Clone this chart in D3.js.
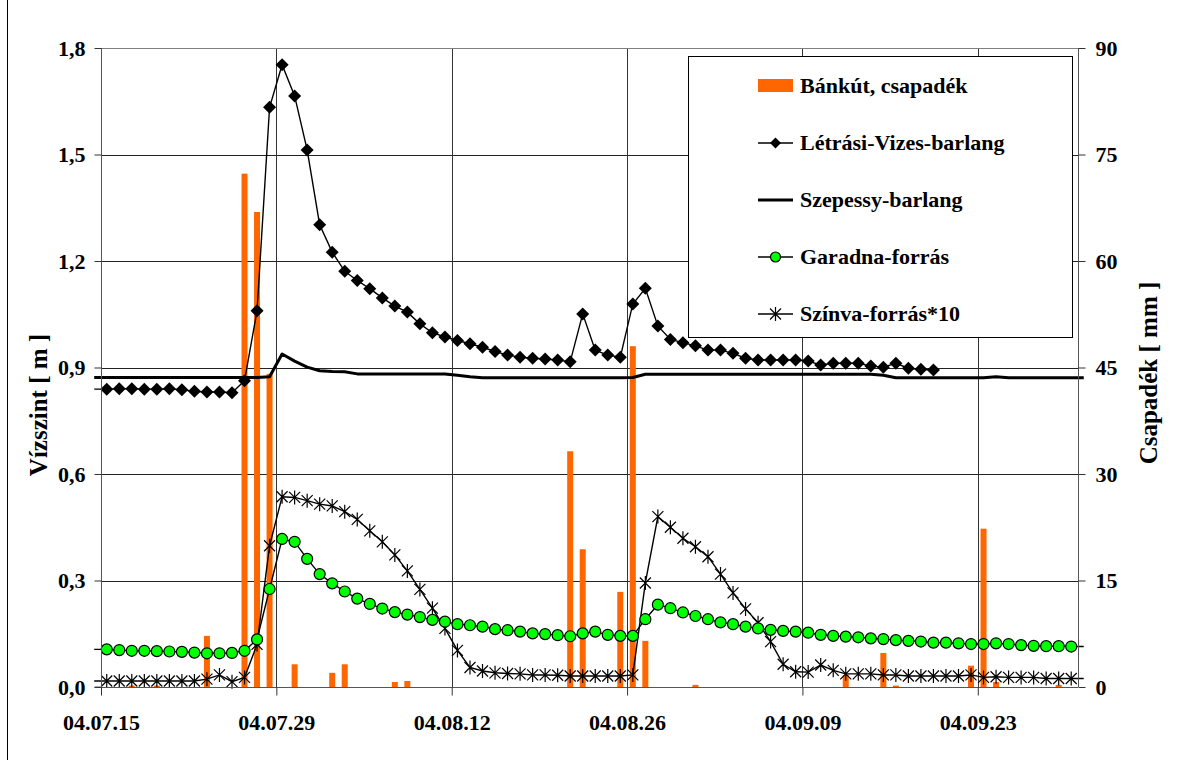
<!DOCTYPE html>
<html>
<head>
<meta charset="utf-8">
<script src="https://cdn.jsdelivr.net/npm/d3@7"></script>
<style>
  html, body { margin: 0; padding: 0; background: #fff; }
  svg { display: block; font-family: "Liberation Serif", "Times New Roman", serif; font-weight: bold; }
</style>
</head>
<body>
<div id="chart"></div>
<script>
// daily values, 04.07.14 .. 04.10.01 (first and last day fall just outside the axis)
const startDay = new Date(Date.UTC(2004, 6, 14));
const endDay = new Date(Date.UTC(2004, 9, 2));
const days = d3.utcDay.range(startDay, endDay);

const tickLabels = ['04.07.15', '04.07.29', '04.08.12', '04.08.26', '04.09.09', '04.09.23'];
const leftTicks = [0, 0.3, 0.6, 0.9, 1.2, 1.5, 1.8];
const rightTicks = [0, 15, 30, 45, 60, 75, 90];

// Bánkút, csapadék [mm]
const precip = [
  0, 0, 0, 0.2, 0, 0.2, 0, 0, 0, 7.2, 0, 0, 72.3, 66.9, 44.1, 0, 3.2, 0, 0, 2.0,
  3.2, 0, 0, 0, 0.7, 0.85, 0, 0, 0, 0, 0, 0, 0, 0, 0, 0, 0, 0, 33.2, 19.4,
  0, 0, 13.4, 48.0, 6.5, 0, 0, 0, 0.3, 0, 0, 0, 0, 0, 0, 0, 0, 0, 0, 0,
  1.7, 0, 0, 4.8, 0.2, 0, 0, 0, 0, 0, 3.0, 22.3, 0.7, 0, 0, 0, 0, 0.3, 0, 0
];

// Létrási-Vizes-barlang [m]
const letrasi = [
  0.839, 0.839, 0.840, 0.840, 0.839, 0.839, 0.840, 0.837, 0.833, 0.831, 0.831, 0.829, 0.863, 1.060, 1.633, 1.753,
  1.665, 1.513, 1.302, 1.225, 1.171, 1.145, 1.122, 1.096, 1.073, 1.056, 1.023, 0.998, 0.986, 0.976,
  0.967, 0.957, 0.945, 0.935, 0.929, 0.926, 0.924, 0.921, 0.916, 1.051, 0.949, 0.935, 0.929, 1.079,
  1.123, 1.017, 0.979, 0.970, 0.961, 0.949, 0.949, 0.940, 0.926, 0.921, 0.921, 0.921, 0.921, 0.918,
  0.907, 0.912, 0.912, 0.912, 0.904, 0.901, 0.912, 0.898, 0.895, 0.893,
  null, null, null, null, null, null, null, null, null, null, null, null
];

// Szepessy-barlang [m]
const szepessy = [
  0.872, 0.872, 0.872, 0.872, 0.872, 0.872, 0.872, 0.872, 0.872, 0.872, 0.872, 0.872, 0.872, 0.872,
  0.874, 0.938, 0.918, 0.901, 0.891, 0.889, 0.888, 0.882, 0.882, 0.882, 0.882, 0.882, 0.882, 0.882,
  0.882, 0.878, 0.874, 0.871, 0.871, 0.871, 0.871, 0.871, 0.871, 0.871, 0.871, 0.871, 0.871, 0.871,
  0.871, 0.872, 0.881, 0.881, 0.881, 0.881, 0.881, 0.881, 0.881, 0.881, 0.881, 0.881, 0.881, 0.881,
  0.881, 0.881, 0.881, 0.881, 0.881, 0.881, 0.881, 0.878, 0.871, 0.871, 0.871, 0.871, 0.871, 0.871,
  0.871, 0.871, 0.874, 0.871, 0.871, 0.871, 0.871, 0.871, 0.871, 0.871
];

// Garadna-forrás [m]
const garadna = [
  0.106, 0.106, 0.104, 0.102, 0.102, 0.101, 0.100, 0.099, 0.097, 0.095, 0.095, 0.096, 0.102, 0.134,
  0.276, 0.417, 0.409, 0.361, 0.318, 0.292, 0.269, 0.249, 0.234, 0.221, 0.211, 0.204, 0.197, 0.189,
  0.184, 0.177, 0.174, 0.170, 0.163, 0.160, 0.156, 0.151, 0.149, 0.146, 0.143, 0.151, 0.156, 0.147,
  0.144, 0.144, 0.191, 0.232, 0.222, 0.210, 0.200, 0.191, 0.182, 0.177, 0.170, 0.165, 0.161, 0.158,
  0.156, 0.153, 0.147, 0.144, 0.142, 0.140, 0.137, 0.135, 0.132, 0.130, 0.128, 0.125, 0.125, 0.123,
  0.121, 0.121, 0.123, 0.121, 0.118, 0.116, 0.115, 0.115, 0.114, 0.114
];

// Színva-forrás*10 [m]
const szinva = [
  0.017, 0.017, 0.017, 0.017, 0.017, 0.017, 0.017, 0.017, 0.017, 0.022, 0.034, 0.015, 0.027, 0.120,
  0.398, 0.536, 0.534, 0.525, 0.515, 0.510, 0.494, 0.472, 0.440, 0.409, 0.372, 0.327, 0.275, 0.222,
  0.165, 0.103, 0.055, 0.045, 0.040, 0.038, 0.037, 0.034, 0.034, 0.033, 0.031, 0.031, 0.031, 0.031,
  0.031, 0.034, 0.293, 0.480, 0.450, 0.419, 0.395, 0.367, 0.318, 0.265, 0.220, 0.181, 0.128, 0.064,
  0.043, 0.042, 0.062, 0.047, 0.037, 0.037, 0.037, 0.034, 0.034, 0.031, 0.031, 0.031, 0.031, 0.031,
  0.034, 0.027, 0.029, 0.027, 0.027, 0.027, 0.024, 0.024, 0.024, 0.024
];

const W = 1182, H = 760;
const plot = { left: 101, right: 1078, top: 48, bottom: 687 };
const fontSize = 22;
const titleSize = 25;

const svg = d3.select('#chart').append('svg')
  .attr('width', W)
  .attr('height', H);

svg.append('rect').attr('width', W).attr('height', H).attr('fill', '#fff');
// left edge of the chart border (the rest is cropped off)
svg.append('line')
  .attr('x1', 7.5).attr('x2', 7.5).attr('y1', 0).attr('y2', H)
  .attr('stroke', '#000').attr('stroke-width', 1);

const parse = d3.utcParse('%y.%m.%d');
const x = d3.scaleUtc()
  .domain([new Date(Date.UTC(2004, 6, 15)), new Date(Date.UTC(2004, 9, 1))])
  .range([plot.left, plot.right]);
const yL = d3.scaleLinear().domain([0, 1.8]).range([plot.bottom, plot.top]);
const yR = d3.scaleLinear().domain([0, 90]).range([plot.bottom, plot.top]);

// points sit in the middle of their day
const px = (d) => x(d3.utcHour.offset(d, 11));
const inRange = (d) => d >= x.domain()[0] && d < x.domain()[1];

const xTicks = tickLabels.map(parse);

// gridlines
const grid = svg.append('g');
grid.selectAll('.hg')
  .data(leftTicks.filter((t) => t > 0 && t < 1.8))
  .enter().append('line')
  .attr('x1', plot.left).attr('x2', plot.right)
  .attr('y1', (d) => Math.round(yL(d)) + 0.5).attr('y2', (d) => Math.round(yL(d)) + 0.5)
  .attr('stroke', '#222').attr('stroke-width', 1);
grid.selectAll('.vg')
  .data(xTicks.slice(1))
  .enter().append('line')
  .attr('x1', (d) => Math.round(x(d)) + 0.5).attr('x2', (d) => Math.round(x(d)) + 0.5)
  .attr('y1', plot.top).attr('y2', plot.bottom)
  .attr('stroke', '#333').attr('stroke-width', 1);

// plot frame (top and right)
svg.append('path')
  .attr('d', `M${plot.left},${plot.top + 0.5}H${plot.right + 0.5}V${plot.bottom}`)
  .attr('fill', 'none').attr('stroke', '#808080').attr('stroke-width', 1);

// precipitation bars
const barW = 6;
svg.append('g').selectAll('rect')
  .data(days.map((d, i) => ({ d, v: precip[i] })).filter((p) => p.v > 0 && inRange(p.d)))
  .enter().append('rect')
  .attr('x', (p) => px(p.d) - barW / 2)
  .attr('y', (p) => yR(p.v))
  .attr('width', barW)
  .attr('height', (p) => plot.bottom - yR(p.v))
  .attr('fill', '#ff6600');

function series(values) {
  return days.map((d, i) => ({ d, v: values[i] }));
}

const line = d3.line()
  .defined((p) => p.v != null)
  .x((p) => px(p.d))
  .y((p) => yL(p.v));

const gLines = svg.append('g');
gLines.append('path').datum(series(szepessy))
  .attr('d', line).attr('fill', 'none').attr('stroke', '#000').attr('stroke-width', 3)
  .attr('stroke-linejoin', 'round');
gLines.append('path').datum(series(szinva))
  .attr('d', line).attr('fill', 'none').attr('stroke', '#000').attr('stroke-width', 1.4);
gLines.append('path').datum(series(garadna))
  .attr('d', line).attr('fill', 'none').attr('stroke', '#000').attr('stroke-width', 1.4);
gLines.append('path').datum(series(letrasi))
  .attr('d', line).attr('fill', 'none').attr('stroke', '#000').attr('stroke-width', 1.4);

const diamond = 'M0,-6.5L6.5,0L0,6.5L-6.5,0Z';
const star = 'M-5.5,-5.5L5.5,5.5M-5.5,5.5L5.5,-5.5M0,-7L0,7';

const visible = (arr) => series(arr).filter((p) => p.v != null && inRange(p.d));

svg.append('g').selectAll('path')
  .data(visible(szinva))
  .enter().append('path')
  .attr('d', star)
  .attr('transform', (p) => `translate(${px(p.d)},${yL(p.v)})`)
  .attr('fill', 'none').attr('stroke', '#000').attr('stroke-width', 1.2);

svg.append('g').selectAll('circle')
  .data(visible(garadna))
  .enter().append('circle')
  .attr('cx', (p) => px(p.d))
  .attr('cy', (p) => yL(p.v))
  .attr('r', 5.5)
  .attr('fill', '#00ff00').attr('stroke', '#000').attr('stroke-width', 1.2);

svg.append('g').selectAll('path')
  .data(visible(letrasi))
  .enter().append('path')
  .attr('d', diamond)
  .attr('transform', (p) => `translate(${px(p.d)},${yL(p.v)})`)
  .attr('fill', '#000');

// axes
const axisL = svg.append('g').attr('transform', `translate(${plot.left + 0.5},0)`)
  .call(d3.axisLeft(yL).tickValues(leftTicks).tickSize(7).tickPadding(9)
    .tickFormat((d) => d3.format('.1f')(d).replace('.', ',')));
const axisR = svg.append('g').attr('transform', `translate(${plot.right + 0.5},0)`)
  .call(d3.axisRight(yR).tickValues(rightTicks).tickSize(7).tickPadding(10));
const axisB = svg.append('g').attr('transform', `translate(0,${plot.bottom + 0.5})`)
  .call(d3.axisBottom(x).tickValues(xTicks).tickSize(8).tickPadding(19)
    .tickFormat(d3.utcFormat('%y.%m.%d')));

[axisL, axisR, axisB].forEach((a) => {
  a.select('.domain').attr('stroke', '#555');
  a.selectAll('.tick line').attr('stroke', '#333');
  a.selectAll('text')
    .attr('font-family', '"Liberation Serif", "Times New Roman", serif')
    .attr('font-weight', 'bold')
    .attr('font-size', fontSize)
    .attr('fill', '#000');
});
axisL.select('.domain').attr('d', `M-7,${plot.bottom}H0V${plot.top}`);
axisR.select('.domain').attr('d', `M0,${plot.top}V${plot.bottom}`);
axisB.select('.domain').attr('d', `M${plot.left},0H${plot.right}`);

// axis titles
svg.append('text')
  .attr('transform', 'translate(47,405) rotate(-90)')
  .attr('text-anchor', 'middle')
  .attr('font-size', titleSize)
  .text('Vízszint [ m ]');
svg.append('text')
  .attr('transform', 'translate(1157,373) rotate(-90)')
  .attr('text-anchor', 'middle')
  .attr('font-size', titleSize)
  .text('Csapadék [ mm ]');

// legend
const legendItems = [
  { name: 'Bánkút, csapadék', kind: 'bar' },
  { name: 'Létrási-Vizes-barlang', kind: 'diamond' },
  { name: 'Szepessy-barlang', kind: 'thick' },
  { name: 'Garadna-forrás', kind: 'circle' },
  { name: 'Színva-forrás*10', kind: 'star' }
];
const lg = svg.append('g');
lg.append('rect')
  .attr('x', 688.5).attr('y', 56.5)
  .attr('width', 384).attr('height', 281)
  .attr('fill', '#fff').attr('stroke', '#000').attr('stroke-width', 1);

const row = lg.selectAll('.row')
  .data(legendItems)
  .enter().append('g')
  .attr('transform', (d, i) => `translate(758,${86 + i * 57})`);

row.each(function (d) {
  const g = d3.select(this);
  if (d.kind === 'bar') {
    g.append('rect').attr('x', 0).attr('y', -7).attr('width', 35).attr('height', 13).attr('fill', '#ff6600');
  } else {
    g.append('line').attr('x1', 0).attr('x2', 35).attr('y1', 0).attr('y2', 0)
      .attr('stroke', '#000').attr('stroke-width', d.kind === 'thick' ? 3 : 1.4);
    if (d.kind === 'diamond') {
      g.append('path').attr('d', 'M0,-5.5L5.5,0L0,5.5L-5.5,0Z').attr('transform', 'translate(17.5,0)').attr('fill', '#000');
    } else if (d.kind === 'circle') {
      g.append('circle').attr('cx', 17.5).attr('cy', 0).attr('r', 5).attr('fill', '#00ff00')
        .attr('stroke', '#000').attr('stroke-width', 1.2);
    } else if (d.kind === 'star') {
      g.append('path').attr('d', star).attr('transform', 'translate(17.5,0)')
        .attr('fill', 'none').attr('stroke', '#000').attr('stroke-width', 1.2);
    }
  }
  g.append('text').attr('x', 42).attr('y', 7).attr('font-size', fontSize).text(d.name);
});
</script>
</body>
</html>
